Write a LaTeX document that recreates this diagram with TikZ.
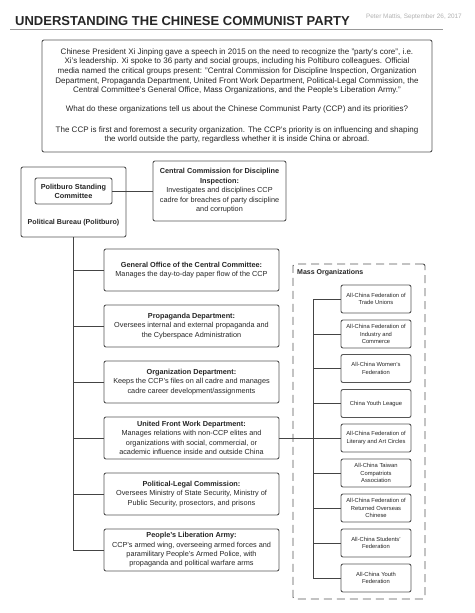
\documentclass[tikz,border=0pt]{standalone}
\usepackage{fontspec}
\setmainfont{Liberation Sans}
\definecolor{boxc}{HTML}{555555}
\definecolor{txt}{HTML}{262626}
\definecolor{linec}{HTML}{444444}
\begin{document}
\begin{tikzpicture}[x=1pt,y=-1pt,
  box/.style={draw=boxc, line width=0.9pt, rounded corners=2pt, inner sep=0pt, align=center, text=txt},
  lbox/.style={box, minimum width=175, minimum height=42, font=\fontsize{7.3}{9.3}\selectfont},
  mbox/.style={box, minimum width=70, minimum height=28, font=\fontsize{5.8}{7.3}\selectfont},
  conn/.style={draw=linec, line width=0.9pt}]
\useasboundingbox (0,0) rectangle (474,613);
\fill[white] (0,0) rectangle (474,613);
% title
\node[anchor=base west, inner sep=0pt, text=txt, font=\fontsize{13}{15}\bfseries\selectfont] (title) at (15,25) {UNDERSTANDING THE CHINESE COMMUNIST PARTY};
\node[anchor=base east, inner sep=0pt, text=black!30, font=\fontsize{6.4}{7}\selectfont] (date) at (462,18) {Peter Mattis, September 26, 2017};
\coordinate (rl) at (10,29);
\coordinate (rr) at (443,29);
\draw[black!40, line width=0.6pt] (rl) -- (rr);
% intro box
\node[box, minimum width=390, minimum height=112, font=\fontsize{8}{9.6}\selectfont] (intro) at (237,96) {Chinese President Xi Jinping gave a speech in 2015 on the need to recognize the "party's core", i.e.\\
Xi's leadership. Xi spoke to 36 party and social groups, including his Poltiburo colleagues. Official\\
media named the critical groups present: "Central Commission for Discipline Inspection, Organization\\
Department, Propaganda Department, United Front Work Department, Political-Legal Commission, the\\
Central Committee's General Office, Mass Organizations, and the People's Liberation Army."\\[9.5pt]
What do these organizations tell us about the Chinese Communist Party (CCP) and its priorities?\\[11pt]
The CCP is first and foremost a security organization. The CCP's priority is on influencing and shaping\\
the world outside the party, regardless whether it is inside China or abroad.};
% politburo
\node[box, minimum width=105, minimum height=70] (pb) at (73.5,202) {};
\node[box, minimum width=77, minimum height=26, font=\fontsize{7.3}{9}\bfseries\selectfont] (psc) at (73.5,191) {Politburo Standing\\Committee};
\node[inner sep=0pt, text=txt, font=\fontsize{7.1}{9}\bfseries\selectfont] (pbl) at (73.5,223) {Political Bureau (Politburo)};
\node[box, minimum width=133, minimum height=60, font=\fontsize{7.3}{9.5}\selectfont] (cc) at (219.5,191) {\textbf{Central Commission for Discipline}\\\textbf{Inspection:}\\Investigates and disciplines CCP\\cadre for breaches of party discipline\\and corruption};
\draw[conn] (psc.east) -- (cc.west);
% left departments
\node[lbox] (go) at (191.5,270) {\textbf{General Office of the Central Committee:}\\Manages the day-to-day paper flow of the CCP};
\node[lbox] (pd) at (191.5,326) {\textbf{Propaganda Department:}\\Oversees internal and external propaganda and\\the Cyberspace Administration};
\node[lbox] (od) at (191.5,382) {\textbf{Organization Department:}\\Keeps the CCP's files on all cadre and manages\\cadre career development/assignments};
\node[lbox] (uf) at (191.5,438) {\textbf{United Front Work Department:}\\Manages relations with non-CCP elites and\\organizations with social, commercial, or\\academic influence inside and outside China};
\node[lbox] (pl) at (191.5,494) {\textbf{Political-Legal Commission:}\\Oversees Ministry of State Security, Ministry of\\Public Security, prosectors, and prisons};
\node[lbox] (pla) at (191.5,550) {\textbf{People's Liberation Army:}\\CCP's armed wing, overseeing armed forces and\\paramilitary People's Armed Police, with\\propaganda and political warfare arms};
\draw[conn] (pb.south) -- (pb.south |- pla.west) -- (pla.west);
\foreach \n in {go,pd,od,uf,pl} \draw[conn] (pb.south |- \n.west) -- (\n.west);
% mass organizations
\node[draw=boxc, line width=0.9pt, dash pattern=on 8pt off 5pt, rounded corners=2pt, minimum width=132, minimum height=335, inner sep=0pt] (mo) at (359,431.5) {};
\node[anchor=base west, inner sep=0pt, text=txt, font=\fontsize{7}{8}\bfseries\selectfont] (mol) at (297,274) {Mass Organizations};
\node[mbox] (m1) at (376,299) {All-China Federation of\\Trade Unions};
\node[mbox] (m2) at (376,334) {All-China Federation of\\Industry and\\Commerce};
\node[mbox] (m3) at (376,368.5) {All-China Women's\\Federation};
\node[mbox] (m4) at (376,403.5) {China Youth League};
\node[mbox] (m5) at (376,438) {All-China Federation of\\Literary and Art Circles};
\node[mbox] (m6) at (376,473) {All-China Taiwan\\Compatriots\\Association};
\node[mbox] (m7) at (376,508) {All-China Federation of\\Returned Overseas\\Chinese};
\node[mbox] (m8) at (376,543) {All-China Students'\\Federation};
\node[mbox] (m9) at (376,578) {All-China Youth\\Federation};
\coordinate (mt) at (313,0);
\draw[conn] (mt |- m1.west) -- (mt |- m9.west);
\foreach \n in {m1,m2,m3,m4,m6,m7,m8,m9} \draw[conn] (mt |- \n.west) -- (\n.west);
\draw[conn] (uf.east) -- (m5.west);
\end{tikzpicture}
\end{document}
